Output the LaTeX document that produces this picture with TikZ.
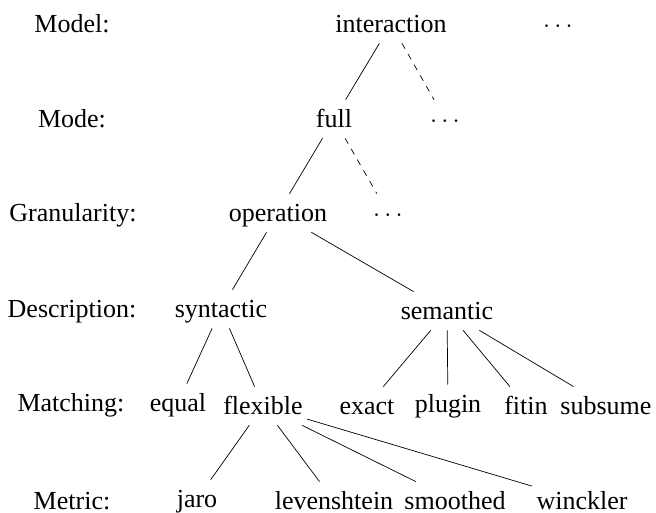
\documentclass[tikz,border=0pt]{standalone}
\usepackage{fontspec}
\setmainfont{Liberation Serif}
\begin{document}
\begin{tikzpicture}[
    every node/.style={anchor=base, inner sep=0.08cm, text height=0.48cm, text depth=0.12cm,
        font=\rmfamily\fontsize{14.8}{17}\selectfont},
    link/.style={black, thin},
    more/.style={black, thin, dash pattern=on 3.5pt off 3.5pt}]
        \useasboundingbox (0, 0) rectangle (13.12, 10.26);

        % level names
        \node (lmodel) at (1.44, 9.60) {Model:};
        \node (lmode) at (1.44, 7.70) {Mode:};
        \node (lgran) at (1.46, 5.82) {Granularity:};
        \node (ldesc) at (1.44, 3.90) {Description:};
        \node (lmatch) at (1.42, 2.02) {Matching:};
        \node (lmetric) at (1.44, 0.06) {Metric:};

        % tree
        \node (interaction) at (7.82, 9.60) {interaction};
        \node (dotsa) at (11.16, 9.60) {$\cdots$};
        \node (full) at (6.68, 7.70) {full};
        \node (dotsb) at (8.90, 7.70) {$\cdots$};
        \node (operation) at (5.56, 5.82) {operation};
        \node (dotsc) at (7.76, 5.82) {$\cdots$};
        \node (syntactic) at (4.42, 3.90) {syntactic};
        \node (semantic) at (8.94, 3.86) {semantic};
        \node (equal) at (3.56, 2.02) {equal};
        \node (flexible) at (5.26, 1.96) {flexible};
        \node (exact) at (7.34, 1.96) {exact};
        \node (plugin) at (8.96, 2.00) {plugin};
        \node (fitin) at (10.52, 1.96) {fitin};
        \node (subsume) at (12.12, 1.96) {subsume};
        \node (jaro) at (3.94, 0.10) {jaro};
        \node (levenshtein) at (6.68, 0.06) {levenshtein};
        \node (smoothed) at (9.10, 0.06) {smoothed};
        \node (winckler) at (11.64, 0.06) {winckler};

        \draw[link] (interaction) -- (full);
        \draw[more] (interaction) -- (dotsb);
        \draw[link] (full) -- (operation);
        \draw[more] (full) -- (dotsc);
        \draw[link] (operation) -- (syntactic);
        \draw[link] (operation) -- (semantic);
        \draw[link] (syntactic) -- (equal);
        \draw[link] (syntactic) -- (flexible);
        \draw[link] (semantic) -- (exact);
        \draw[link] (semantic) -- (plugin);
        \draw[link] (semantic) -- (fitin);
        \draw[link] (semantic) -- (subsume);
        \draw[link] (flexible) -- (jaro);
        \draw[link] (flexible) -- (levenshtein);
        \draw[link] (flexible) -- (smoothed);
        \draw[link] (flexible) -- (winckler);
    \end{tikzpicture}
\end{document}
